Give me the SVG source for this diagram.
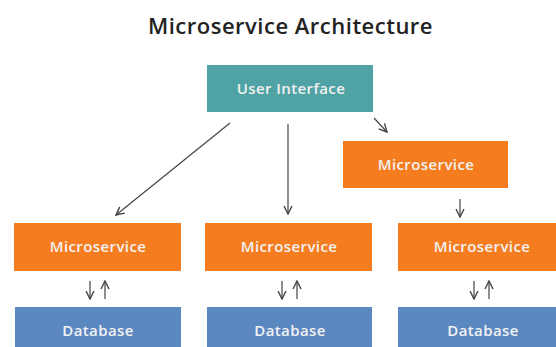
<svg xmlns="http://www.w3.org/2000/svg" width="556" height="347" viewBox="0 0 556 347">
<style>
.title{font-family:"Open Sans",Lato,"Liberation Sans",sans-serif;font-weight:600;font-size:22px;letter-spacing:0.5px;fill:#222;}
.lbl{font-family:"Open Sans",Lato,"Liberation Sans",sans-serif;font-weight:600;font-size:15px;letter-spacing:0.4px;fill:#f2f2f2;text-anchor:middle;}
.ui{fill:#4fa3a4;}
.ms{fill:#f57d1f;}
.db{fill:#5b88c1;}
.conn{stroke:#444;stroke-width:1.2;fill:none;}
</style>
<defs>
<marker id="ah" viewBox="0 0 10 10" refX="9" refY="5" markerWidth="10" markerHeight="10" markerUnits="userSpaceOnUse" orient="auto">
<path d="M1,1 L9,5 L1,9" fill="none" stroke="#444" stroke-width="1.4"/>
</marker>
</defs>
<rect width="556" height="347" fill="#fff"/>
<text class="title" x="290.5" y="34" text-anchor="middle">Microservice Architecture</text>
<g id="ui"><rect class="ui" x="207" y="65" width="166" height="47"/><text class="lbl" x="291" y="94">User Interface</text></g>
<g id="ms-top"><rect class="ms" x="343" y="141" width="165" height="47"/><text class="lbl" x="426" y="170">Microservice</text></g>
<g id="ms1"><rect class="ms" x="14" y="223" width="167" height="48"/><text class="lbl" x="98" y="252">Microservice</text></g>
<g id="ms2"><rect class="ms" x="205" y="223" width="167" height="48"/><text class="lbl" x="289" y="252">Microservice</text></g>
<g id="ms3"><rect class="ms" x="398" y="223" width="167" height="48"/><text class="lbl" x="482" y="252">Microservice</text></g>
<g id="db1"><rect class="db" x="15" y="307" width="166" height="45"/><text class="lbl" x="98" y="336">Database</text></g>
<g id="db2"><rect class="db" x="207" y="307" width="165" height="45"/><text class="lbl" x="290" y="336">Database</text></g>
<g id="db3"><rect class="db" x="398" y="307" width="167" height="45"/><text class="lbl" x="483" y="336">Database</text></g>
<g id="connectors">
<line class="conn" x1="230" y1="123" x2="116" y2="215" marker-end="url(#ah)"/>
<line class="conn" x1="288" y1="124" x2="288" y2="214" marker-end="url(#ah)"/>
<line class="conn" x1="374" y1="118" x2="387" y2="132" marker-end="url(#ah)"/>
<line class="conn" x1="460" y1="199" x2="460" y2="217" marker-end="url(#ah)"/>
<line class="conn" x1="90" y1="281" x2="90" y2="299" marker-end="url(#ah)"/>
<line class="conn" x1="105" y1="299" x2="105" y2="281" marker-end="url(#ah)"/>
<line class="conn" x1="282" y1="281" x2="282" y2="299" marker-end="url(#ah)"/>
<line class="conn" x1="297" y1="299" x2="297" y2="281" marker-end="url(#ah)"/>
<line class="conn" x1="474" y1="281" x2="474" y2="299" marker-end="url(#ah)"/>
<line class="conn" x1="489" y1="299" x2="489" y2="281" marker-end="url(#ah)"/>
</g>
</svg>
